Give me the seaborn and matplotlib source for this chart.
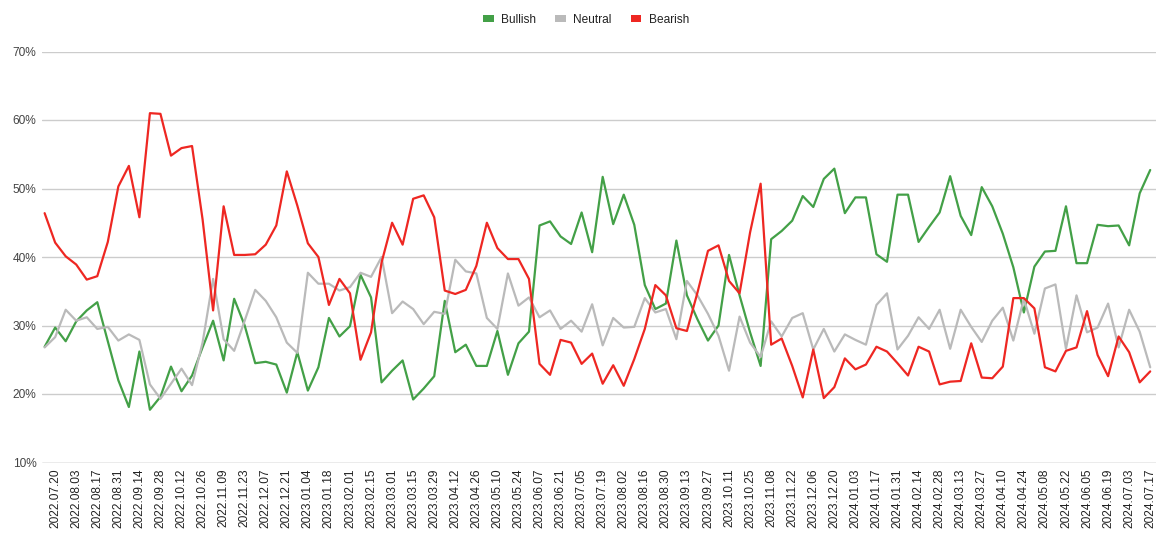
import matplotlib
matplotlib.use("Agg")
import matplotlib.pyplot as plt
from matplotlib.patches import Patch
import numpy as np
import pandas as pd
import seaborn as sns

# weekly survey dates (first week is not labelled on the axis)
weeks = pd.date_range("2022-07-13", periods=106, freq="7D")
week_labels = [d.strftime("%Y.%m.%d") for d in weeks]

bullish = [26.9, 29.7, 27.7, 30.6, 32.2, 33.4, 27.7, 22.0, 18.1, 26.2,
           17.7, 19.6, 24.0, 20.4, 22.7, 26.8, 30.7, 24.9, 33.9, 30.0,
           24.5, 24.7, 24.3, 20.2, 26.1, 20.5, 23.9, 31.1, 28.4, 29.9,
           37.4, 34.1, 21.7, 23.4, 24.9, 19.2, 20.8, 22.6, 33.6, 26.1,
           27.2, 24.1, 24.1, 29.2, 22.8, 27.4, 29.1, 44.6, 45.2, 43.0,
           41.9, 46.5, 40.7, 51.7, 44.8, 49.1, 44.7, 35.9, 32.4, 33.2,
           42.4, 34.4, 30.9, 27.8, 30.0, 40.3, 34.4, 29.0, 24.1, 42.6,
           43.8, 45.3, 48.9, 47.3, 51.4, 52.9, 46.4, 48.7, 48.7, 40.4,
           39.3, 49.1, 49.1, 42.2, 44.4, 46.5, 51.8, 46.0, 43.2, 50.2,
           47.4, 43.4, 38.5, 31.9, 38.6, 40.8, 40.9, 47.4, 39.1, 39.1,
           44.7, 44.5, 44.6, 41.7, 49.3, 52.7]

neutral = [26.8, 28.3, 32.3, 30.7, 31.2, 29.5, 29.8, 27.8, 28.7, 27.9,
           21.4, 19.3, 21.5, 23.7, 21.3, 27.5, 36.8, 28.0, 26.3, 30.7,
           35.2, 33.6, 31.2, 27.5, 26.0, 37.7, 36.1, 36.1, 35.1, 35.6,
           37.7, 37.1, 40.0, 31.8, 33.5, 32.4, 30.2, 32.0, 31.7, 39.6,
           37.9, 37.6, 31.1, 29.5, 37.6, 32.9, 34.1, 31.2, 32.2, 29.5,
           30.7, 29.1, 33.1, 27.1, 31.1, 29.7, 29.8, 34.0, 31.9, 32.4,
           28.0, 36.5, 34.4, 31.7, 28.5, 23.4, 31.3, 27.5, 25.4, 30.6,
           28.4, 31.1, 31.8, 26.5, 29.5, 26.2, 28.7, 27.9, 27.2, 33.0,
           34.7, 26.5, 28.5, 31.2, 29.5, 32.3, 26.6, 32.3, 29.8, 27.6,
           30.7, 32.6, 27.8, 33.9, 28.8, 35.4, 36.0, 26.6, 34.4, 29.0,
           29.7, 33.2, 26.8, 32.3, 29.1, 23.9]

bearish = [46.4, 42.1, 40.1, 38.9, 36.7, 37.2, 42.2, 50.3, 53.3, 45.8,
           61.0, 60.9, 54.8, 55.9, 56.2, 45.5, 32.2, 47.4, 40.3, 40.3,
           40.4, 41.8, 44.6, 52.5, 47.5, 42.0, 40.0, 33.0, 36.8, 34.7,
           25.0, 29.0, 39.2, 45.0, 41.8, 48.5, 49.0, 45.8, 35.1, 34.6,
           35.2, 38.7, 45.0, 41.3, 39.7, 39.7, 36.8, 24.4, 22.8, 27.9,
           27.5, 24.4, 25.9, 21.5, 24.2, 21.2, 25.1, 29.5, 35.9, 34.4,
           29.6, 29.2, 34.8, 40.9, 41.7, 36.5, 34.7, 43.6, 50.7, 27.2,
           28.1, 24.1, 19.5, 26.5, 19.4, 21.0, 25.2, 23.6, 24.3, 26.9,
           26.2, 24.5, 22.7, 26.9, 26.2, 21.4, 21.8, 21.9, 27.4, 22.4,
           22.3, 24.0, 34.0, 34.0, 32.5, 23.9, 23.3, 26.3, 26.8, 32.1,
           25.7, 22.6, 28.4, 26.1, 21.7, 23.3]

series_names = ["Bullish", "Neutral", "Bearish"]
colors = {"Bullish": "#43a047", "Neutral": "#bababa", "Bearish": "#ee2722"}

n = len(weeks)
df = pd.DataFrame({
    "week": np.tile(np.arange(n), 3),
    "value": bullish + neutral + bearish,
    "series": np.repeat(series_names, n),
})

sns.set_style("white")
plt.rcParams["font.family"] = ["Liberation Sans", "DejaVu Sans"]

fig = plt.figure(figsize = (11.73, 5.38), dpi = 100)
ax = fig.add_axes([42 / 1173, 1 - 462.5 / 538, (1156 - 42) / 1173, (462.5 - 51.5) / 538])

sns.lineplot(data = df, x = "week", y = "value", hue = "series", hue_order = series_names,
             palette = colors, linewidth = 1.6, ax = ax, legend = False, zorder = 3)

ax.set_xlim(-0.25, n - 1 + 0.55)
ax.set_ylim(10, 70)
yt = list(range(10, 71, 10))
ax.set_yticks(yt)
ax.set_yticklabels([str(v) + "%" for v in yt], fontsize = 8.6, color = "#444444")
ax.grid(axis = "y", color = "#cccccc", linewidth = 1.0)
ax.grid(axis = "x", visible = False)
for s in ax.spines.values():
    s.set_visible(False)
ax.axhline(10, color = "#c4c4c4", linewidth = 1.0, zorder = 2)

xt = list(range(1, n, 2))
ax.set_xticks(xt)
ax.set_xticklabels([week_labels[i] for i in xt], rotation = 90, fontsize = 8.6, color = "#222222")
ax.tick_params(axis = "both", length = 0, pad = 4)
ax.set_xlabel("")
ax.set_ylabel("")

handles = [Patch(facecolor = colors[s], edgecolor = "none", label = s) for s in series_names]
fig.legend(handles = handles, loc = "center", bbox_to_anchor = (586 / 1173, 1 - 20 / 538), ncol = 3,
           frameon = False, fontsize = 8.6, handlelength = 0.9, handleheight = 0.55,
           handletextpad = 0.6, columnspacing = 1.6, labelcolor = "#222222")

plt.savefig("out.png", dpi = 100)
